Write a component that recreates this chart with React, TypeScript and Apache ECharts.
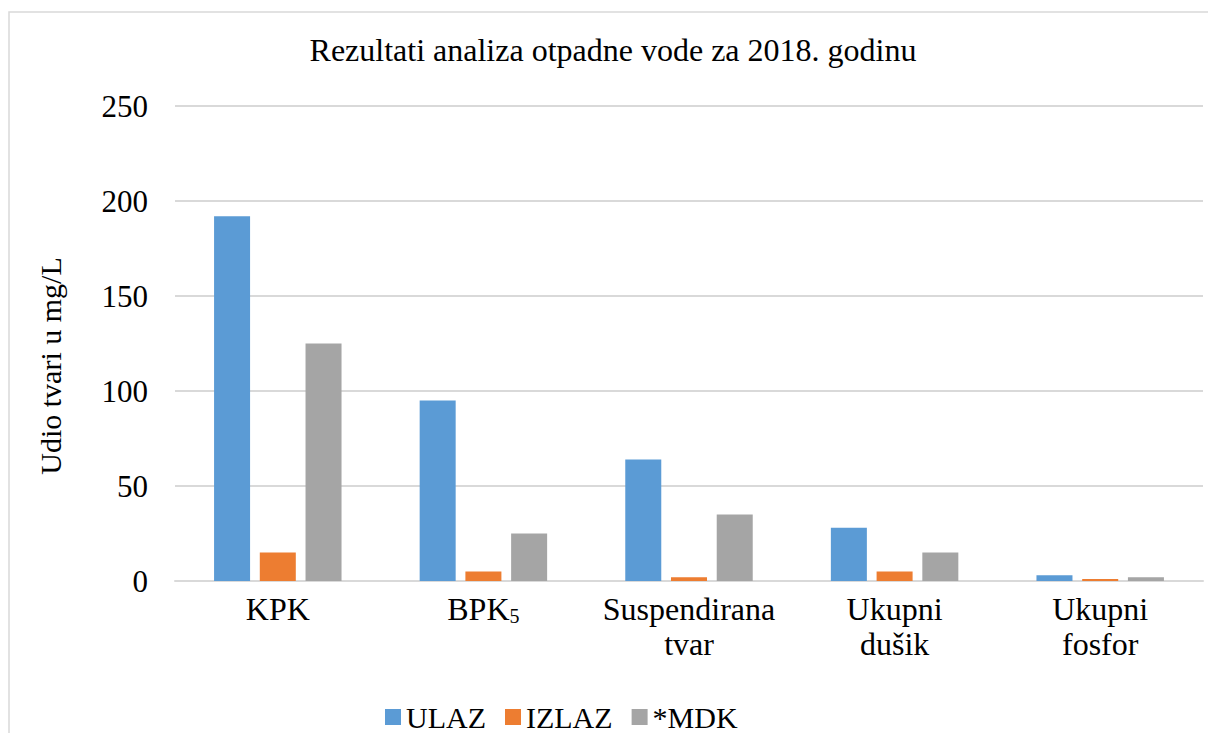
import React, { useEffect, useRef } from "react";
import * as echarts from "echarts";

const categories = ["KPK", "BPK5", "Suspendirana\ntvar", "Ukupni\ndušik", "Ukupni\nfosfor"];
const ulaz = [192, 95, 64, 28, 3];
const izlaz = [15, 5, 2, 5, 1];
const mdk = [125, 25, 35, 15, 2];
const seriesNames = ["ULAZ", "IZLAZ", "*MDK"];
const colors = ["#5b9bd5", "#ed7d31", "#a5a5a5"];
const FONT = "'Liberation Serif', 'Times New Roman', serif";

export default function App() {
  const ref = useRef<HTMLDivElement>(null);
  useEffect(() => {
    if (!ref.current) return;
    const chart = echarts.init(ref.current, null, { renderer: "svg" });
    chart.setOption({
      animation: false,
      textStyle: { fontFamily: FONT, color: "#000" },
      title: {
        text: "Rezultati analiza otpadne vode za 2018. godinu",
        left: 613,
        top: 34,
        padding: 0,
        textAlign: "center",
        textStyle: { fontFamily: FONT, fontSize: 32, fontWeight: "normal", color: "#000" },
      },
      graphic: [
        {
          type: "rect",
          shape: { x: 9, y: 12, width: 1400, height: 900 },
          style: { fill: "none", stroke: "#d9d9d9", lineWidth: 1.5 },
          silent: true,
        },
        {
          type: "text",
          x: 50,
          y: 366,
          rotation: Math.PI / 2,
          style: {
            text: "Udio tvari u mg/L",
            fontFamily: FONT,
            fontSize: 30,
            fill: "#000",
            align: "center",
            verticalAlign: "middle",
          },
          silent: true,
        },
      ],
      legend: {
        data: seriesNames,
        left: 385,
        top: 702,
        padding: 0,
        itemWidth: 16,
        itemHeight: 16,
        itemGap: 19,
        icon: "rect",
        textStyle: { fontFamily: FONT, fontSize: 30, lineHeight: 30, color: "#000" },
      },
      grid: { left: 175, right: 5, top: 106, bottom: 152 },
      xAxis: {
        type: "category",
        data: categories,
        axisTick: { show: false },
        axisLine: { lineStyle: { color: "#d9d9d9", width: 2 } },
        axisLabel: {
          fontFamily: FONT,
          fontSize: 32,
          color: "#000",
          margin: 10,
          lineHeight: 35,
          interval: 0,
          formatter: (v: string) => (v === "BPK5" ? "BPK{sub|5}" : v),
          rich: {
            sub: { fontFamily: FONT, fontSize: 20, color: "#000", verticalAlign: "bottom", lineHeight: 22, padding: [16, 0, 0, 0] },
          },
        },
      },
      yAxis: {
        type: "value",
        min: 0,
        max: 250,
        interval: 50,
        axisLine: { show: false },
        axisTick: { show: false },
        axisLabel: { fontFamily: FONT, fontSize: 31, color: "#000", margin: 27 },
        splitLine: { lineStyle: { color: "#d9d9d9", width: 2 } },
      },
      series: [
        { name: seriesNames[0], type: "bar", data: ulaz, itemStyle: { color: colors[0] }, barGap: "27%", barCategoryGap: "38%" },
        { name: seriesNames[1], type: "bar", data: izlaz, itemStyle: { color: colors[1] }, barGap: "27%", barCategoryGap: "38%" },
        { name: seriesNames[2], type: "bar", data: mdk, itemStyle: { color: colors[2] }, barGap: "27%", barCategoryGap: "38%" },
      ],
    });
    return () => chart.dispose();
  }, []);
  return (
    <div
      ref={ref}
      style={{ position: "fixed", left: 0, top: 0, width: 1208, height: 733, background: "#fff" }}
    />
  );
}
